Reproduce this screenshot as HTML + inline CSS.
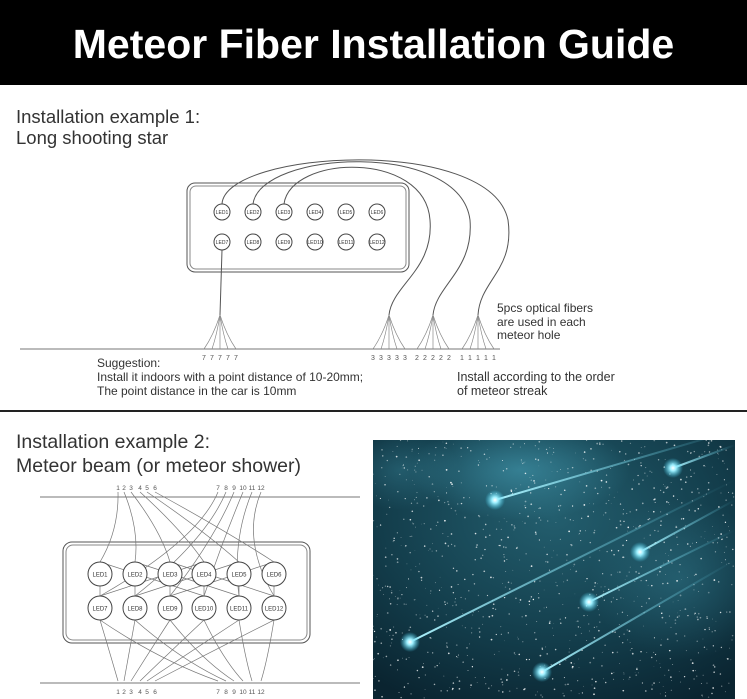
<!DOCTYPE html>
<html><head><meta charset="utf-8"><style>
html,body{margin:0;padding:0;background:#fff;}
body{width:747px;height:699px;overflow:hidden;position:relative;font-family:"Liberation Sans",Arial,sans-serif;}
.hdr{position:absolute;left:0;top:0;width:747px;height:85px;background:#000;color:#fff;font-weight:bold;font-size:41px;text-align:center;line-height:88px;}
.t{position:absolute;color:#333;white-space:nowrap;}
</style></head><body>
<div class="hdr">Meteor Fiber Installation Guide</div>
<div class="t" style="left:16px;top:106px;font-size:18.5px;line-height:21px;">Installation example 1:<br>Long shooting star</div>
<div class="t" style="left:97px;top:356px;font-size:12px;line-height:14px;">Suggestion:<br>Install it indoors with a point distance of 10-20mm;<br>The point distance in the car is 10mm</div>
<div class="t" style="left:457px;top:370px;font-size:12.5px;line-height:14px;">Install according to the order<br>of meteor streak</div>
<div class="t" style="left:497px;top:302px;font-size:12px;line-height:13.5px;">5pcs optical fibers<br>are used in each<br>meteor hole</div>
<div class="t" style="left:16px;top:430px;font-size:19.5px;line-height:24px;">Installation example 2:<br>Meteor beam (or meteor shower)</div>

<svg width="747" height="699" style="position:absolute;left:0;top:0" xmlns="http://www.w3.org/2000/svg">
<g fill="none" stroke="#555" stroke-width="1">
 <rect x="187" y="183" width="222" height="89" rx="8"/>
 <rect x="190" y="186" width="216" height="83" rx="6" stroke="#888"/>
 <line x1="20" y1="349" x2="500" y2="349" stroke="#777"/>
 <path d="M222 204 C225 150 490 135 508 220 C515 270 480 280 478 315"/>
 <path d="M253 204 C260 150 460 140 470 220 C474 270 436 285 433 315"/>
 <path d="M284 204 C290 155 425 150 430 220 C434 270 392 285 389 315"/>
 <path d="M222 250 L220 315"/>
</g>
<g fill="none" stroke="#888" stroke-width="0.7" id="b7"></g>
<g font-size="5" fill="#333" text-anchor="middle" font-family="Liberation Sans">
 <g id="leds1"></g>
</g>
<g font-size="7" fill="#555" font-family="Liberation Sans" id="lbl1"></g>
<line x1="0" y1="411" x2="747" y2="411" stroke="#222" stroke-width="2"/>
<g fill="none" stroke="#555" stroke-width="1">
 <line x1="40" y1="497" x2="360" y2="497" stroke="#777"/>
 <line x1="40" y1="683" x2="360" y2="683" stroke="#777"/>
 <rect x="63" y="542" width="247" height="101" rx="9"/>
 <rect x="66" y="545" width="241" height="95" rx="7" stroke="#888"/>
</g>
<g id="ex2" fill="none" stroke="#777" stroke-width="0.7"></g>
<g id="leds2" font-size="6" fill="#333" text-anchor="middle" font-family="Liberation Sans"></g>
<defs>
 <radialGradient id="sky" cx="0.5" cy="0.3" r="0.8">
  <stop offset="0" stop-color="#235e6e"/><stop offset="0.6" stop-color="#133d4b"/><stop offset="1" stop-color="#0a2430"/>
 </radialGradient>
 <radialGradient id="neb" cx="0.5" cy="0.5" r="0.5">
  <stop offset="0" stop-color="#4aa6bd" stop-opacity="0.55"/><stop offset="1" stop-color="#4aa6bd" stop-opacity="0"/>
 </radialGradient>
 <radialGradient id="head" cx="0.5" cy="0.5" r="0.5">
  <stop offset="0" stop-color="#fff"/><stop offset="0.3" stop-color="#9ef0ff"/><stop offset="1" stop-color="#40c8e8" stop-opacity="0"/>
 </radialGradient>
 <clipPath id="pc"><rect x="373" y="440" width="362" height="259"/></clipPath>
</defs>
<g clip-path="url(#pc)">
 <rect x="373" y="440" width="362" height="259" fill="url(#sky)"/>
 <ellipse cx="520" cy="470" rx="110" ry="50" fill="url(#neb)"/>
 <ellipse cx="680" cy="580" rx="90" ry="80" fill="url(#neb)" opacity="0.5"/>
 <ellipse cx="400" cy="470" rx="60" ry="40" fill="url(#neb)" opacity="0.5"/>
 <g id="stars" fill="#fff"></g>
 <g id="met"></g>
</g>
</svg>
<script>
var NS="http://www.w3.org/2000/svg";
function el(p,t,a,txt){var e=document.createElementNS(NS,t);for(var k in a)e.setAttribute(k,a[k]);if(txt)e.textContent=txt;document.getElementById(p).appendChild(e);return e;}
for(var r=0;r<2;r++)for(var i=0;i<6;i++){var x=222+i*31,y=212+r*30;
 el("leds1","circle",{cx:x,cy:y,r:8,fill:"#fff",stroke:"#444","stroke-width":1});
 el("leds1","text",{x:x,y:y+2},"LED"+(r*6+i+1));}
var B=[[220,"7"],[389,"3"],[433,"2"],[478,"1"]];
B.forEach(function(b){for(var k=0;k<5;k++){var ex=b[0]-16+k*8;
 el("b7","path",{d:"M"+b[0]+" 315 Q"+(b[0]+(ex-b[0])*0.4)+" 335 "+ex+" 349"});
 el("lbl1","text",{x:ex-2,y:360},b[1]);}});
var lx=[100,135,170,204,239,274],ty=[118,124,131,140,147,155,218,226,234,243,252,261];
function L(d){el("ex2","path",{d:d});}
for(var i=0;i<6;i++){
 L("M"+ty[i]+" 492 Q"+((ty[i]+lx[i])/2+10)+" 530 "+lx[i]+" 562");
 L("M"+ty[6+i]+" 492 Q"+(ty[6+i]-20)+" 540 "+lx[i]+" 596");
 L("M"+lx[i]+" 586 L"+lx[i]+" 596");
 L("M"+lx[i]+" 620 Q"+(lx[i]+ty[i])/2+" 650 "+ty[i]+" 681");
 L("M"+lx[i]+" 620 Q"+((lx[i]+ty[6+i])/2)+" 660 "+ty[6+i]+" 681");
}
for(var i=0;i<6;i++){ L("M"+lx[i]+" 562 L"+(lx[(i+3)%6])+" 596"); }
for(var r=0;r<2;r++)for(var i=0;i<6;i++){var x=lx[i],y=574+r*34;
 el("leds2","circle",{cx:x,cy:y,r:12,fill:"#fff",stroke:"#444","stroke-width":1});
 el("leds2","text",{x:x,y:y+2.5},"LED"+(r*6+i+1));}
for(var i=0;i<12;i++){el("leds2","text",{x:ty[i],y:490,"font-size":6.5,fill:"#555"},""+(i+1));el("leds2","text",{x:ty[i],y:694,"font-size":6.5,fill:"#555"},""+(i+1));}
var s=7;function rnd(){s=(s*16807)%2147483647;return s/2147483647;}
for(var i=0;i<1100;i++){el("stars","circle",{cx:373+rnd()*362,cy:440+rnd()*259,r:(rnd()*0.6+0.3).toFixed(2),opacity:(0.3+rnd()*0.6).toFixed(2)});}
var M=[[495,500,735,430],[673,468,735,445],[640,552,735,500],[589,602,735,530],[410,642,735,480],[542,672,735,560]];
M.forEach(function(m){
 var g=document.createElementNS(NS,"linearGradient");var id="g"+m[0];g.setAttribute("id",id);g.setAttribute("gradientUnits","userSpaceOnUse");
 g.setAttribute("x1",m[0]);g.setAttribute("y1",m[1]);g.setAttribute("x2",m[2]);g.setAttribute("y2",m[3]);
 g.innerHTML='<stop offset="0" stop-color="#aef4ff"/><stop offset="1" stop-color="#5bc8e0" stop-opacity="0"/>';
 document.querySelector("defs").appendChild(g);
 el("met","line",{x1:m[0],y1:m[1],x2:m[2],y2:m[3],stroke:"url(#"+id+")","stroke-width":2});
 el("met","circle",{cx:m[0],cy:m[1],r:10,fill:"url(#head)"});
});
</script>
</body></html>
